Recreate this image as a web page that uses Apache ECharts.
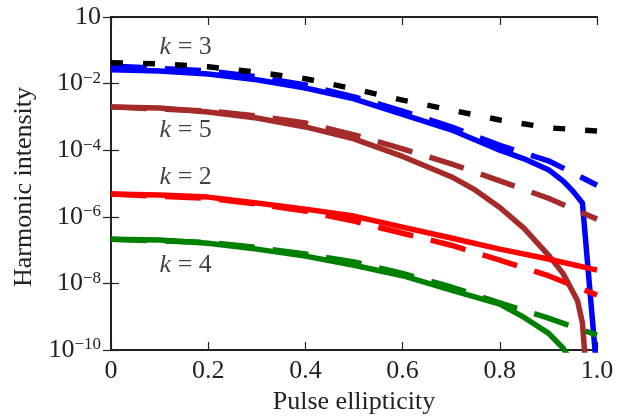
<!DOCTYPE html>
<html><head><meta charset="utf-8">
<script src="https://cdn.jsdelivr.net/npm/echarts@6/dist/echarts.min.js"></script>
<style>html,body{margin:0;padding:0;background:#fff}#c{width:626px;height:417px}</style>
</head><body><div id="c"></div>
<script>
// ---- data ----
const xTicks = [0, 0.2, 0.4, 0.6, 0.8, 1.0];
const yTickLabels = ['10', '10−2', '10−4', '10−6', '10−8', '10−10'];

const k3BlackX = [0, 0.1, 0.2, 0.3, 0.4, 0.5, 0.6, 0.7, 0.8, 0.9, 1.0];
const k3BlackY = [4.2e-2, 3.9e-2, 3.2e-2, 2.2e-2, 1.4e-2, 6.9e-3, 3.2e-3, 1.6e-3, 8.1e-4, 4.7e-4, 3.8e-4];

const k3SolidX = [0, 0.1, 0.2, 0.3, 0.4, 0.5, 0.6, 0.7, 0.8, 0.85, 0.9, 0.93, 0.95, 0.97, 1.0];
const k3SolidY = [2.6e-2, 2.4e-2, 1.95e-2, 1.3e-2, 7.4e-3, 3.5e-3, 1.2e-3, 4.1e-4, 1.0e-4, 5.5e-5, 2.6e-5, 1.2e-5, 6.0e-6, 2.6e-6, 2e-11];
const k3DashX = [0, 0.2, 0.3, 0.4, 0.5, 0.6, 0.7, 0.8, 0.9, 0.95, 1.0];
const k3DashY = [3.4e-2, 2.4e-2, 1.6e-2, 9.1e-3, 4.0e-3, 1.5e-3, 5.0e-4, 1.4e-4, 4.8e-5, 2.1e-5, 8.9e-6];

const k5SolidX = [0, 0.1, 0.2, 0.3, 0.4, 0.5, 0.6, 0.7, 0.75, 0.8, 0.85, 0.9, 0.93, 0.96, 0.97, 0.985];
const k5SolidY = [2.0e-3, 1.86e-3, 1.4e-3, 9.3e-4, 5.0e-4, 2.2e-4, 6.5e-5, 1.6e-5, 6.3e-6, 1.9e-6, 4.5e-7, 7.1e-8, 2.0e-8, 3.0e-9, 6.5e-10, 1e-12];
const k5DashX = [0, 0.2, 0.3, 0.4, 0.5, 0.6, 0.7, 0.8, 0.9, 1.0];
const k5DashY = [2.0e-3, 1.5e-3, 1.07e-3, 6.6e-4, 2.9e-4, 1.1e-4, 3.9e-5, 1.2e-5, 3.6e-6, 8.5e-7];

const k2SolidX = [0, 0.1, 0.2, 0.3, 0.4, 0.5, 0.6, 0.7, 0.8, 0.9, 1.0];
const k2SolidY = [4.8e-6, 4.5e-6, 3.9e-6, 2.6e-6, 1.7e-6, 1.05e-6, 4.9e-7, 2.3e-7, 1.07e-7, 5.4e-8, 2.5e-8];
const k2DashX = [0, 0.2, 0.3, 0.4, 0.5, 0.6, 0.7, 0.8, 0.9, 1.0];
const k2DashY = [4.8e-6, 3.6e-6, 2.4e-6, 1.5e-6, 7.4e-7, 3.2e-7, 1.4e-7, 5.0e-8, 1.7e-8, 4.5e-9];

const k4SolidX = [0, 0.1, 0.2, 0.3, 0.4, 0.5, 0.6, 0.7, 0.8, 0.85, 0.9, 0.93, 0.95];
const k4SolidY = [2.1e-7, 2.0e-7, 1.6e-7, 1.07e-7, 6.6e-8, 3.5e-8, 1.7e-8, 6.3e-9, 2.4e-9, 9.5e-10, 3.2e-10, 1.15e-10, 4e-11];
const k4DashX = [0, 0.2, 0.3, 0.4, 0.5, 0.6, 0.7, 0.8, 0.9, 1.0];
const k4DashY = [2.1e-7, 1.7e-7, 1.2e-7, 7.6e-8, 4.4e-8, 2.0e-8, 7.8e-9, 2.6e-9, 9.1e-10, 2.8e-10];

const labelKs = ['3', '5', '2', '4'];
const labelX = [0.1, 0.1, 0.1, 0.1];
const labelY = [0.126, 4.1e-4, 1.5e-5, 3.6e-8];

// ---- chart ----
const FONT = 'Liberation Serif';
const FS = 26;
const zip = (xs, ys) => xs.map((x, i) => [x, ys[i]]);
function line(xs, ys, color, dash, z) {
  return {
    type: 'line', data: zip(xs, ys), showSymbol: false, symbol: 'none',
    lineStyle: { color: color, width: 5.5, type: dash || 'solid', cap: 'butt' },
    z: z, silent: true, animation: false, clip: true
  };
}
const supLabel = v => {
  const e = Math.round(Math.log10(v));
  if (e === 0) return '10';
  return '10{s|−' + (-e) + '}';
};
const axisLine = { show: true, lineStyle: { color: '#222', width: 2 } };
const tick = { inside: true, length: 8, lineStyle: { color: '#222', width: 1.2 } };
const chart = echarts.init(document.getElementById('c'), null, { renderer: 'canvas' });
chart.setOption({
  animation: false,
  grid: { left: 111, right: 29, top: 17, bottom: 67 },
  xAxis: [{
    type: 'value', min: 0, max: 1, interval: 0.2,
    axisLine: axisLine, splitLine: { show: false }, axisTick: tick,
    axisLabel: { fontFamily: FONT, fontSize: FS, color: '#222', margin: 8,
      formatter: v => v === 0 ? '0' : v.toFixed(1) }
  }, {
    type: 'value', min: 0, max: 1, interval: 0.2, position: 'top',
    axisLine: axisLine, splitLine: { show: false }, axisTick: tick,
    axisLabel: { show: false }
  }],
  yAxis: [{
    type: 'log', logBase: 10, min: 1e-10, max: 1, interval: 2,
    axisLine: axisLine, splitLine: { show: false }, minorTick: { show: false },
    axisTick: tick,
    axisLabel: { fontFamily: FONT, fontSize: FS, color: '#222', margin: 10,
      formatter: supLabel,
      rich: { s: { fontFamily: FONT, fontSize: 17, color: '#222', verticalAlign: 'top', padding: [0, 0, 10, 0] } } }
  }, {
    type: 'log', logBase: 10, min: 1e-10, max: 1, interval: 2, position: 'right',
    axisLine: axisLine, splitLine: { show: false }, axisTick: tick,
    axisLabel: { show: false }
  }],
  graphic: [{
    type: 'text', x: 24, y: 187, rotation: Math.PI / 2,
    style: { text: 'Harmonic intensity', fontFamily: FONT, fontSize: FS, fill: '#222',
      textAlign: 'center', textVerticalAlign: 'middle' }
  }, {
    type: 'text', x: 354, y: 402,
    style: { text: 'Pulse ellipticity', fontFamily: FONT, fontSize: FS, fill: '#222',
      textAlign: 'center', textVerticalAlign: 'middle' }
  }],
  series: [
    line(k3SolidX, k3SolidY, '#0000ff', null, 2),
    line(k3DashX, k3DashY, '#0000ff', [36, 18], 3),
    line(k3BlackX, k3BlackY, '#000000', [12, 20], 4),
    line(k5SolidX, k5SolidY, '#a52a2a', null, 2),
    line(k5DashX, k5DashY, '#a52a2a', [36, 18], 3),
    line(k2SolidX, k2SolidY, '#ff0000', null, 2),
    line(k2DashX, k2DashY, '#ff0000', [36, 18], 3),
    line(k4SolidX, k4SolidY, '#008000', null, 2),
    line(k4DashX, k4DashY, '#008000', [36, 18], 3),
    {
      type: 'scatter', symbolSize: 0, silent: true, z: 10,
      data: labelKs.map((k, i) => ({ value: [labelX[i], labelY[i]], k: k })),
      label: { show: true, position: 'right', distance: 0,
        formatter: p => '{i|k} = ' + p.data.k,
        fontFamily: FONT, fontSize: FS, color: '#111',
        rich: { i: { fontFamily: FONT, fontSize: FS, fontStyle: 'italic', color: '#111' } } }
    }
  ]
});
</script></body></html>
